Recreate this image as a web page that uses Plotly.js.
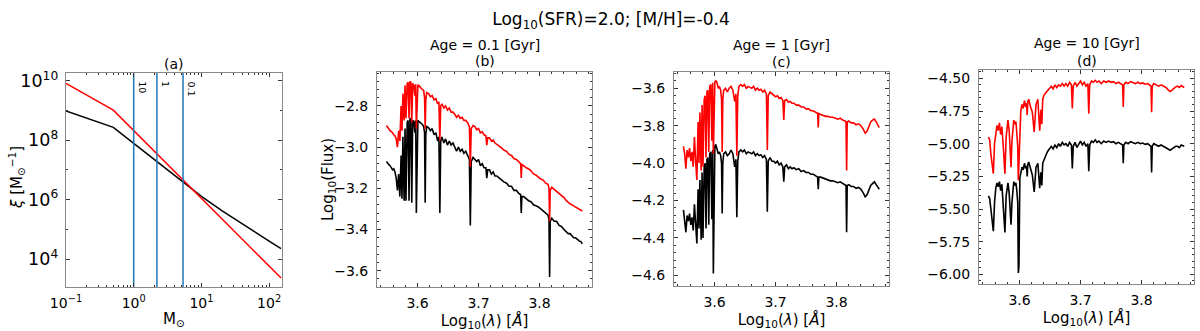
<!DOCTYPE html>
<html><head><meta charset="utf-8">
<script src="https://cdn.plot.ly/plotly-3.0.1.min.js"></script>
<style>html,body{margin:0;padding:0;background:#fff}#chart{width:1200px;height:331px}</style>
</head><body><div id="chart"></div><script>
// ---- Panel (a): IMF ----
const massRed = [0.1, 0.5, 150];
const xiRed = [8.1e9, 1.02e9, 2.3e3];
const massBlack = [0.1, 0.5, 1, 2, 5, 10, 20, 50, 100, 150];
const xiBlack = [9.55e8, 2.69e8, 7.76e7, 2.24e7, 4.27e6, 1.29e6, 4.27e5, 1.07e5, 3.98e4, 2.24e4];
const turnoffMass = [1.0, 2.2, 5.35];
const turnoffLabels = ["10", "1", "0.1"];
const massTicks = [0.1, 1, 10, 100];
const massTickText = ["10<sup>−1</sup>", "10<sup>0</sup>", "10<sup>1</sup>", "10<sup>2</sup>"];

// ---- Spectra (shared wavelength grid, log10 Angstrom) ----
const logLam = [3.549,3.551,3.553,3.555,3.557,3.559,3.561,3.563,3.565,3.567,
3.569,3.571,3.573,3.5745,3.576,3.578,3.5795,3.581,3.583,3.5845,
3.586,3.5875,3.589,3.5905,3.592,3.594,3.5955,3.597,3.598,3.599,
3.6005,3.602,3.604,3.606,3.608,3.610,3.6115,3.6125,3.6135,3.615,
3.618,3.621,3.624,3.627,3.630,3.633,3.635,3.6365,3.638,3.640,
3.643,3.646,3.649,3.652,3.655,3.658,3.661,3.664,3.667,3.670,
3.673,3.676,3.679,3.682,3.685,3.6865,3.688,3.691,3.694,3.697,
3.700,3.703,3.706,3.709,3.712,3.7135,3.715,3.718,3.721,3.724,
3.727,3.730,3.734,3.738,3.742,3.746,3.750,3.754,3.758,3.762,
3.766,3.769,3.770,3.771,3.774,3.778,3.782,3.786,3.790,3.794,
3.798,3.802,3.806,3.810,3.814,3.8155,3.8165,3.8175,3.820,3.824,
3.828,3.832,3.836,3.840,3.844,3.847,3.850,3.853,3.856,3.859,
3.862,3.865,3.868,3.870];

const fluxB_black = [-3.07,-3.08,-3.085,-3.09,-3.10,-3.11,-3.105,-3.12,-3.15,-3.21,
-3.13,-3.24,-3.04,-3.25,-2.95,-3.26,-2.91,-3.26,-2.88,-2.87,
-3.26,-2.86,-2.865,-3.27,-2.87,-2.875,-2.93,-2.87,-3.32,-3.05,
-2.87,-2.875,-2.88,-2.885,-2.89,-2.90,-2.93,-3.27,-2.94,-2.90,
-2.905,-2.92,-2.91,-2.94,-2.93,-2.97,-2.95,-3.32,-2.97,-2.95,
-2.98,-2.96,-2.99,-2.97,-2.99,-2.98,-3.00,-3.02,-3.00,-3.02,
-3.01,-3.03,-3.02,-3.04,-3.06,-3.38,-3.07,-3.05,-3.06,-3.07,
-3.06,-3.09,-3.08,-3.10,-3.10,-3.15,-3.11,-3.11,-3.13,-3.12,
-3.14,-3.14,-3.15,-3.16,-3.17,-3.175,-3.19,-3.19,-3.21,-3.21,
-3.225,-3.23,-3.32,-3.24,-3.24,-3.25,-3.26,-3.265,-3.28,-3.285,
-3.29,-3.30,-3.31,-3.32,-3.33,-3.35,-3.63,-3.36,-3.345,-3.36,
-3.36,-3.38,-3.385,-3.40,-3.41,-3.42,-3.42,-3.43,-3.44,-3.44,
-3.45,-3.455,-3.46,-3.47];
const fluxB_red = [-2.895,-2.905,-2.91,-2.92,-2.925,-2.93,-2.94,-2.945,-2.96,-3.00,
-2.92,-2.97,-2.80,-2.92,-2.74,-2.87,-2.70,-2.86,-2.69,-2.685,
-2.86,-2.68,-2.685,-2.88,-2.69,-2.70,-2.75,-2.695,-2.91,-2.80,
-2.70,-2.70,-2.71,-2.715,-2.72,-2.725,-2.76,-2.91,-2.77,-2.735,
-2.74,-2.755,-2.75,-2.77,-2.765,-2.79,-2.78,-2.965,-2.80,-2.79,
-2.81,-2.80,-2.82,-2.81,-2.83,-2.83,-2.84,-2.855,-2.845,-2.86,
-2.855,-2.87,-2.87,-2.88,-2.90,-3.095,-2.91,-2.895,-2.90,-2.915,
-2.91,-2.93,-2.925,-2.94,-2.945,-2.99,-2.955,-2.955,-2.97,-2.965,
-2.98,-2.985,-2.995,-3.005,-3.015,-3.02,-3.035,-3.04,-3.055,-3.06,
-3.07,-3.08,-3.15,-3.085,-3.09,-3.10,-3.105,-3.115,-3.13,-3.135,
-3.145,-3.155,-3.16,-3.175,-3.18,-3.20,-3.36,-3.21,-3.195,-3.205,
-3.215,-3.225,-3.235,-3.245,-3.26,-3.27,-3.275,-3.28,-3.285,-3.29,
-3.295,-3.30,-3.305,-3.31];

const fluxC_black = [-4.25,-4.30,-4.37,-4.28,-4.31,-4.27,-4.33,-4.29,-4.36,-4.22,
-4.34,-4.43,-4.14,-4.35,-4.09,-4.41,-4.05,-4.40,-4.02,-4.00,
-4.35,-3.98,-3.97,-4.33,-3.95,-3.94,-4.30,-3.93,-4.59,-4.20,
-3.91,-3.90,-3.92,-3.95,-3.94,-3.96,-4.00,-4.27,-4.00,-3.95,
-3.94,-3.96,-3.95,-3.93,-3.95,-4.02,-3.98,-4.29,-3.99,-3.94,
-3.93,-3.94,-3.93,-3.95,-3.94,-3.945,-3.95,-3.94,-3.96,-3.95,
-3.96,-3.955,-3.97,-3.96,-3.98,-4.26,-3.99,-3.97,-3.99,-3.99,
-4.00,-3.99,-4.01,-4.00,-4.02,-4.10,-4.02,-4.01,-4.03,-4.02,
-4.03,-4.025,-4.035,-4.03,-4.045,-4.04,-4.05,-4.05,-4.06,-4.06,
-4.07,-4.075,-4.14,-4.075,-4.075,-4.08,-4.085,-4.09,-4.095,-4.095,
-4.10,-4.105,-4.10,-4.11,-4.115,-4.12,-4.37,-4.12,-4.115,-4.125,
-4.125,-4.135,-4.13,-4.14,-4.16,-4.18,-4.17,-4.14,-4.12,-4.11,
-4.10,-4.115,-4.13,-4.14];
const fluxC_red = [-3.91,-3.95,-4.03,-3.93,-3.97,-3.92,-3.99,-3.94,-4.02,-3.86,
-3.99,-4.09,-3.78,-4.00,-3.73,-4.04,-3.69,-4.02,-3.66,-3.64,
-3.97,-3.62,-3.61,-3.94,-3.59,-3.58,-3.88,-3.57,-3.95,-3.80,
-3.565,-3.56,-3.57,-3.60,-3.59,-3.61,-3.66,-3.94,-3.66,-3.61,
-3.60,-3.62,-3.60,-3.59,-3.61,-3.67,-3.63,-3.96,-3.64,-3.59,
-3.58,-3.59,-3.58,-3.60,-3.59,-3.595,-3.60,-3.59,-3.61,-3.60,
-3.61,-3.605,-3.62,-3.61,-3.63,-3.93,-3.64,-3.62,-3.63,-3.635,
-3.645,-3.64,-3.655,-3.65,-3.665,-3.77,-3.665,-3.66,-3.675,-3.67,
-3.68,-3.68,-3.69,-3.69,-3.70,-3.70,-3.71,-3.71,-3.72,-3.72,
-3.73,-3.735,-3.81,-3.735,-3.74,-3.745,-3.75,-3.75,-3.755,-3.755,
-3.76,-3.765,-3.76,-3.77,-3.775,-3.78,-4.04,-3.78,-3.775,-3.785,
-3.785,-3.795,-3.79,-3.80,-3.82,-3.84,-3.83,-3.80,-3.78,-3.77,
-3.765,-3.78,-3.80,-3.81];

const fluxD_black = [-5.40,-5.42,-5.50,-5.58,-5.67,-5.45,-5.34,-5.30,-5.33,-5.29,
-5.36,-5.31,-5.45,-5.55,-5.68,-5.40,-5.32,-5.30,-5.38,-5.48,
-5.62,-5.45,-5.33,-5.29,-5.32,-5.30,-5.36,-5.45,-5.99,-5.94,
-5.26,-5.22,-5.18,-5.20,-5.15,-5.19,-5.17,-5.25,-5.16,-5.14,
-5.20,-5.24,-5.37,-5.18,-5.15,-5.34,-5.22,-5.32,-5.15,-5.12,
-5.09,-5.06,-5.04,-5.02,-5.04,-5.01,-5.03,-5.00,-5.02,-4.99,
-5.01,-5.00,-5.02,-4.99,-5.01,-5.19,-5.02,-4.99,-5.03,-5.00,
-4.98,-5.01,-4.99,-5.02,-5.00,-5.21,-5.01,-4.98,-4.99,-4.97,
-4.99,-4.98,-5.00,-4.98,-4.99,-4.98,-4.99,-4.985,-5.00,-4.99,
-5.00,-5.01,-5.15,-5.01,-4.99,-5.00,-4.985,-4.99,-5.00,-4.99,
-5.00,-4.995,-5.005,-5.00,-5.01,-5.02,-5.22,-5.02,-5.00,-5.01,
-5.02,-5.01,-5.02,-5.03,-5.04,-5.05,-5.04,-5.03,-5.02,-5.02,
-5.03,-5.01,-5.02,-5.02];
const fluxD_red = [-4.95,-4.97,-5.08,-5.15,-5.23,-5.00,-4.90,-4.86,-4.90,-4.84,
-4.93,-4.87,-5.00,-5.10,-5.23,-4.95,-4.85,-4.82,-4.90,-5.02,
-5.18,-4.98,-4.86,-4.82,-4.85,-4.83,-4.92,-5.02,-5.28,-5.10,
-4.80,-4.75,-4.70,-4.73,-4.67,-4.72,-4.69,-4.78,-4.68,-4.66,
-4.72,-4.76,-4.91,-4.70,-4.66,-4.90,-4.74,-4.85,-4.66,-4.63,
-4.61,-4.59,-4.57,-4.56,-4.58,-4.55,-4.57,-4.55,-4.56,-4.54,
-4.56,-4.54,-4.56,-4.53,-4.55,-4.73,-4.56,-4.53,-4.56,-4.54,
-4.52,-4.55,-4.53,-4.56,-4.54,-4.77,-4.55,-4.52,-4.53,-4.515,
-4.53,-4.52,-4.54,-4.52,-4.53,-4.52,-4.53,-4.525,-4.54,-4.53,
-4.54,-4.55,-4.72,-4.55,-4.53,-4.54,-4.525,-4.53,-4.54,-4.53,
-4.54,-4.535,-4.545,-4.54,-4.55,-4.56,-4.76,-4.56,-4.54,-4.55,
-4.56,-4.55,-4.56,-4.57,-4.59,-4.60,-4.59,-4.575,-4.565,-4.56,
-4.57,-4.555,-4.565,-4.57];

const panelTitles = ["(a)", "Age = 0.1 [Gyr]", "Age = 1 [Gyr]", "Age = 10 [Gyr]"];
const panelLetters = ["(b)", "(c)", "(d)"];

const W = 1200, H = 331;
const px = v => v / W;
const py = v => 1 - v / H;
const FONT = "DejaVu Sans, Liberation Sans, sans-serif";
const TICK = 14, LAB = 15, TTL = 14;

const traces = [];
// panel a
traces.push({x: massBlack, y: xiBlack, xaxis: 'x', yaxis: 'y', mode: 'lines', line: {color: 'black', width: 1.5}});
traces.push({x: massRed, y: xiRed, xaxis: 'x', yaxis: 'y', mode: 'lines', line: {color: 'red', width: 1.5}});
turnoffMass.forEach(m => traces.push({x: [m, m], y: [1e2, 1e12], xaxis: 'x', yaxis: 'y', mode: 'lines', line: {color: '#1f77b4', width: 1.5}}));
// spectra
const spec = [[fluxB_black, fluxB_red], [fluxC_black, fluxC_red], [fluxD_black, fluxD_red]];
spec.forEach((s, i) => {
  const xa = 'x' + (i + 2), ya = 'y' + (i + 2);
  traces.push({x: logLam, y: s[0], xaxis: xa, yaxis: ya, mode: 'lines', line: {color: 'black', width: 1.6}});
  traces.push({x: logLam, y: s[1], xaxis: xa, yaxis: ya, mode: 'lines', line: {color: 'red', width: 1.6}});
});

const base = {
  showgrid: false, zeroline: false, showline: true, linecolor: '#888', linewidth: 1,
  mirror: 'ticks', ticks: 'inside', ticklen: 4, tickcolor: '#333', tickwidth: 1,
  tickfont: {family: FONT, size: TICK, color: '#000'}, fixedrange: true
};
function ax(o) { return Object.assign({}, base, o); }

const specX = (dom, anchor) => ax({
  domain: dom, anchor: anchor, range: [3.5335, 3.886], tick0: 3.6, dtick: 0.1, tickformat: '.1f',
  ticklabelstandoff: 3,
  minor: {ticks: 'inside', ticklen: 2, tickcolor: '#333', dtick: 0.02},
  title: {text: 'Log<sub>10</sub>(<i>λ</i>) [<i>Å</i>]', font: {family: FONT, size: LAB, color: '#000'}, standoff: 5}
});

const layout = {
  width: W, height: H, margin: {l: 0, r: 0, t: 0, b: 0},
  paper_bgcolor: '#fff', plot_bgcolor: '#fff', showlegend: false,
  font: {family: FONT, color: '#000'},
  title: {text: 'Log<sub>10</sub>(SFR)=2.0; [M/H]=-0.4', font: {family: FONT, size: 17, color: '#000'}, x: px(611), xanchor: 'center', y: py(19), yanchor: 'middle'},
  xaxis: ax({domain: [px(66), px(282)], anchor: 'y', type: 'log', range: [-1, 2.19],
    tickmode: 'array', tickvals: massTicks, ticktext: massTickText,
    ticklabelstandoff: 3,
    minor: {ticks: 'inside', ticklen: 2, tickcolor: '#333', dtick: 'D1'},
    title: {text: 'M<sub>⊙</sub>', font: {family: FONT, size: LAB, color: '#000'}, standoff: 3}}),
  yaxis: ax({domain: [py(287), py(73)], anchor: 'x', type: 'log', range: [3.06, 10.26], tick0: 0, dtick: 2, exponentformat: 'power',
    ticklabelstandoff: 4,
    minor: {ticks: 'inside', ticklen: 2, tickcolor: '#333', dtick: 1}}),
  xaxis2: specX([px(377), px(592)], 'y2'),
  yaxis2: ax({domain: [py(287), py(72)], anchor: 'x2', range: [-3.679, -2.635], tick0: -3.6, dtick: 0.2, tickformat: '.1f',
    ticklabelstandoff: 5,
    minor: {ticks: 'inside', ticklen: 2, tickcolor: '#333', dtick: 0.04}}),
  xaxis3: specX([px(674), px(889)], 'y3'),
  yaxis3: ax({domain: [py(286), py(72)], anchor: 'x3', range: [-4.657, -3.513], tick0: -4.6, dtick: 0.2, tickformat: '.1f',
    ticklabelstandoff: 5,
    minor: {ticks: 'inside', ticklen: 2, tickcolor: '#333', dtick: 0.04}}),
  xaxis4: specX([px(979), px(1194)], 'y4'),
  yaxis4: ax({domain: [py(284), py(70)], anchor: 'x4', range: [-6.074, -4.436], tick0: -6, dtick: 0.25, tickformat: '.2f',
    ticklabelstandoff: 5,
    minor: {ticks: 'inside', ticklen: 2, tickcolor: '#333', dtick: 0.05}}),
  annotations: []
};

const ann = layout.annotations;
const tf = {family: FONT, size: TTL, color: '#000'};
const lf = {family: FONT, size: LAB, color: '#000'};
// y-axis titles placed as rotated annotations
ann.push({text: '<i>ξ</i> [M<sub>⊙</sub><sup>−1</sup>]', xref: 'paper', yref: 'paper', x: px(16), y: py(178), xanchor: 'center', yanchor: 'middle', textangle: -90, showarrow: false, borderpad: 0, font: lf});
ann.push({text: 'Log<sub>10</sub>(Flux)', xref: 'paper', yref: 'paper', x: px(328), y: py(180), xanchor: 'center', yanchor: 'middle', textangle: -90, showarrow: false, borderpad: 0, font: lf});
ann.push({text: panelTitles[0], xref: 'paper', yref: 'paper', x: px(174), y: py(64), xanchor: 'center', yanchor: 'middle', showarrow: false, borderpad: 0, font: tf});
const centers = [484.5, 781.5, 1086.5];
const line1 = [45, 44.5, 43.5];
const line2 = [61, 62, 61];
for (let i = 0; i < 3; i++) {
  ann.push({text: panelTitles[i + 1], xref: 'paper', yref: 'paper', x: px(centers[i]), y: py(line1[i]), xanchor: 'center', yanchor: 'middle', showarrow: false, borderpad: 0, font: tf});
  ann.push({text: panelLetters[i], xref: 'paper', yref: 'paper', x: px(centers[i]), y: py(line2[i]), xanchor: 'center', yanchor: 'middle', showarrow: false, borderpad: 0, font: tf});
}
turnoffMass.forEach((m, i) => {
  ann.push({text: turnoffLabels[i], xref: 'x', yref: 'y domain', x: Math.log10(m), y: 0.97, xanchor: 'left', yanchor: 'top',
    textangle: 90, showarrow: false, xshift: 1, font: {family: FONT, size: 9.5, color: '#000'}});
});

Plotly.newPlot('chart', traces, layout, {staticPlot: true, displayModeBar: false});
</script></body></html>
